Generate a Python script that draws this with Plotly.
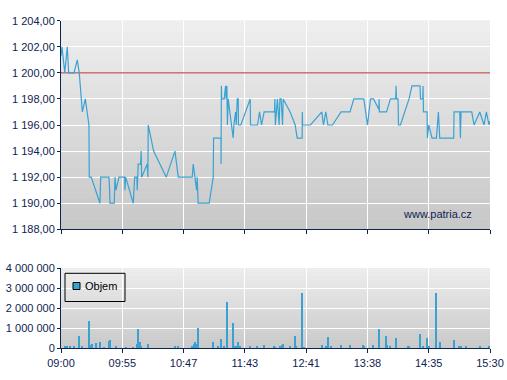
import plotly.graph_objects as go

# ---------------- data ----------------
tick_labels = ["09:00", "09:55", "10:47", "11:43", "12:41", "13:38", "14:35", "15:30"]
session_minutes = 390  # 09:00 -> 15:30
ref_price = 1200.0

# minutes since session start (axis is evenly divided between tick labels)
price_t = [0.0, 0.9, 3.4, 5.7, 7.0, 11.8, 14.8, 16.6, 19.4, 21.5, 22.1, 25.4, 25.7, 27.5,
           35.4, 36.1, 43.6, 44.2, 44.5, 48.4, 49.1, 50.0, 52.7, 57.9, 58.1, 58.8, 65.7,
           67.0, 69.0, 69.3, 70.2, 72.4, 72.9, 73.3, 78.4, 79.0, 79.3, 84.2, 95.7, 103.6,
           106.6, 119.3, 120.2, 123.3, 123.8, 124.7, 134.7, 138.4, 138.7, 145.4, 145.5,
           145.8, 146.1, 148.4, 149.6, 150.2, 150.8, 151.3, 152.0, 156.5, 157.2, 158.7,
           159.3, 160.2, 161.1, 161.3, 163.5, 172.0, 172.3, 178.7, 180.5, 182.3, 184.7,
           194.1, 194.4, 194.9, 196.7, 198.3, 199.0, 200.1, 201.4, 202.0, 208.3, 212.9,
           214.7, 219.2, 219.4, 219.6, 226.8, 237.1, 238.6, 240.7, 242.6, 246.8, 254.6,
           262.8, 266.2, 275.3, 278.6, 281.4, 284.1, 288.9, 289.2, 289.4, 295.9, 299.5,
           304.3, 304.6, 305.0, 306.4, 306.8, 308.6, 316.4, 319.1, 326.4, 326.8, 328.9,
           329.1, 329.5, 332.8, 333.1, 334.3, 337.3, 341.3, 343.1, 344.3, 357.0, 357.3,
           362.5, 363.1, 363.7, 365.5, 373.4, 375.5, 380.7, 384.6, 386.7, 389.1, 389.7]
price = [1201.3, 1202, 1200, 1202, 1200, 1200, 1201, 1200, 1197, 1198, 1198, 1196, 1192, 1192,
         1190, 1192, 1192, 1191, 1190, 1190, 1192, 1191, 1192, 1192, 1191, 1192, 1190,
         1192, 1192, 1191, 1193, 1193, 1194, 1192, 1193, 1192, 1196, 1194, 1192, 1194,
         1192, 1192, 1193, 1191, 1192, 1190, 1190, 1192, 1195, 1195, 1193,
         1199, 1198, 1198, 1199, 1198, 1199, 1196, 1198, 1195, 1196, 1197,
         1196, 1198, 1198, 1196, 1196, 1198, 1196, 1196, 1197, 1196, 1197,
         1197, 1198, 1196, 1198, 1196, 1198, 1198, 1196, 1198, 1197, 1196,
         1195, 1195, 1197, 1196, 1196, 1197, 1196, 1197, 1196, 1196, 1197,
         1197, 1198, 1198, 1196, 1198, 1198, 1197.2, 1198, 1197, 1197, 1198,
         1198, 1199, 1198, 1198, 1196, 1196, 1198, 1199, 1199, 1198, 1198,
         1199, 1197, 1197, 1195, 1196, 1195, 1195, 1197, 1195, 1195, 1197,
         1197, 1195, 1197, 1197, 1197, 1196, 1197, 1196, 1197, 1196, 1196.3]

vol_t = [3.9, 5.7, 8.4, 11.8, 16.6, 19.1, 25.7, 27.0, 27.9, 32.1, 35.7, 39.1, 43.9, 44.8,
         50.2, 59.0, 65.7, 69.0, 70.0, 71.8, 72.9, 79.3, 103.8, 106.6, 119.3, 120.6,
         121.7, 122.9, 124.5, 138.4, 142.6, 145.6, 147.8, 151.1, 156.3, 157.4, 158.7,
         160.2, 161.1, 162.3, 172.0, 178.1, 184.7, 193.8, 194.7, 199.2, 200.5, 201.9,
         208.3, 212.9, 213.8, 219.2, 221.0, 237.1, 240.7, 242.8, 245.6, 254.6, 262.8,
         274.6, 275.9, 283.7, 289.2, 295.5, 296.8, 299.2, 304.6, 315.5, 316.4, 326.4,
         329.1, 332.8, 334.3, 340.7, 344.6, 357.3, 361.8, 363.7, 368.2, 380.9, 389.1]
volume = [120000, 70000, 70000, 70000, 620000, 120000, 1370000, 170000, 200000, 270000,
          320000, 50000, 370000, 420000, 120000, 50000, 50000, 220000, 970000, 280000,
          70000, 220000, 120000, 120000, 120000, 220000, 280000, 220000, 1020000, 320000,
          80000, 470000, 70000, 2280000, 1230000, 120000, 120000, 120000, 320000, 120000,
          120000, 70000, 170000, 100000, 50000, 100000, 150000, 200000, 100000, 620000,
          120000, 2750000, 50000, 170000, 120000, 570000, 100000, 170000, 170000, 170000,
          100000, 170000, 970000, 620000, 170000, 70000, 520000, 70000, 120000, 720000,
          70000, 520000, 70000, 2750000, 320000, 420000, 120000, 120000, 70000, 120000,
          70000]

# ---------------- styling ----------------
W, H = 507, 380
BLUE = "#3aa2d3"
NAVY = "#0f2350"
REF_RED = "#b8302a"


def fx(px):
    return px / W


def fy(py):
    return 1 - py / H


X_DOM = [fx(61), fx(490)]
TOP_DOM = [fy(229.3), fy(20.7)]
BOT_DOM = [fy(348.3), fy(268.3)]
tick_vals = [i * session_minutes / (len(tick_labels) - 1) for i in range(len(tick_labels))]

fig = go.Figure()
# reference (previous close) line, drawn under the price line
fig.add_trace(go.Scatter(x=[0, session_minutes], y=[ref_price, ref_price], mode="lines",
                         line=dict(color=REF_RED, width=1), xaxis="x", yaxis="y",
                         showlegend=False, hoverinfo="skip"))
fig.add_trace(go.Scatter(x=price_t, y=price, mode="lines", line=dict(color=BLUE, width=1.2),
                         xaxis="x", yaxis="y", showlegend=False, hoverinfo="skip"))
fig.add_trace(go.Bar(x=vol_t, y=volume, width=0.9, marker=dict(color=BLUE, line_width=0),
                     xaxis="x2", yaxis="y2", name="Objem", showlegend=False))

shapes = []
# vertical gradient backgrounds
N = 40
top_c, bot_c = (0xef, 0xef, 0xef), (0xc7, 0xc7, 0xc7)
for xr, yr in (("x domain", "y domain"), ("x2 domain", "y2 domain")):
    for i in range(N):
        f = (i + 0.5) / N
        c = tuple(round(bot_c[k] + (top_c[k] - bot_c[k]) * f) for k in range(3))
        shapes.append(dict(type="rect", xref=xr, yref=yr, x0=0, x1=1, y0=i / N,
                           y1=min(1.0, (i + 1) / N + 0.002),
                           fillcolor="rgb(%d,%d,%d)" % c, line_width=0, layer="below"))
# legend box
shapes.append(dict(type="rect", xref="paper", yref="paper", x0=fx(65), x1=fx(125),
                   y0=fy(301.5), y1=fy(273.3), line=dict(color="black", width=1),
                   fillcolor="rgba(0,0,0,0)", layer="above"))
shapes.append(dict(type="rect", xref="paper", yref="paper", x0=fx(73), x1=fx(80),
                   y0=fy(289.5), y1=fy(282.5), line=dict(color="black", width=1),
                   fillcolor=BLUE, layer="above"))

annotations = [
    dict(text="Objem", xref="paper", yref="paper", x=fx(83), y=fy(286), xanchor="left",
         yanchor="middle", showarrow=False, font=dict(size=11, color="black")),
    dict(text="www.patria.cz", xref="paper", yref="paper", x=fx(474), y=fy(213.5),
         xanchor="right", yanchor="middle", showarrow=False, font=dict(size=11, color=NAVY)),
]

axis_common = dict(showline=True, linecolor=NAVY, linewidth=1, ticks="outside", tickcolor=NAVY,
                   showgrid=True, gridcolor="white", gridwidth=1, zeroline=False,
                   tickfont=dict(size=11, color=NAVY), automargin=False)

fig.update_layout(
    width=W, height=H, margin=dict(l=0, r=0, t=0, b=0),
    paper_bgcolor="white", plot_bgcolor="#dcdcdc",
    separators=", ",
    font=dict(family="Liberation Sans, Arial, sans-serif", size=11, color=NAVY),
    showlegend=False, bargap=0,
    xaxis=dict(domain=X_DOM, range=[0, session_minutes], anchor="y", tickvals=tick_vals,
               showticklabels=False, ticklen=4, **axis_common),
    yaxis=dict(domain=TOP_DOM, range=[1188, 1204], dtick=2, tick0=1188, tickformat=",.2f",
               anchor="x", ticklen=3, **axis_common),
    xaxis2=dict(domain=X_DOM, range=[0, session_minutes], anchor="y2", tickvals=tick_vals,
                ticktext=tick_labels, ticklen=4, **axis_common),
    yaxis2=dict(domain=BOT_DOM, range=[0, 4000000], dtick=1000000, tickformat=",.0f",
                anchor="x2", ticklen=3, **axis_common),
    shapes=shapes, annotations=annotations,
)

# remove the default page margin so the 507x380 figure fills the window exactly
fig.write_html("out.html", config={"displayModeBar": False},
               post_script="document.body.style.margin='0';document.body.style.overflow='hidden';")
